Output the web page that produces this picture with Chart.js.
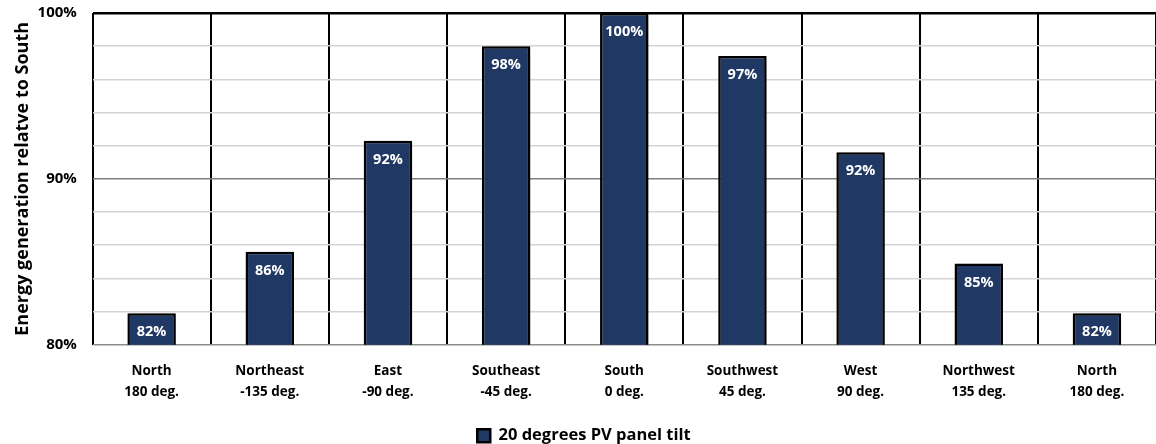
<!DOCTYPE html>
<html>
<head>
<meta charset="utf-8">
<script src="https://cdn.jsdelivr.net/npm/chart.js@4/dist/chart.umd.min.js"></script>
<style>
  html, body { margin: 0; padding: 0; background: #fff; }
  #wrap { width: 1156px; height: 444px; position: relative; }
</style>
</head>
<body>
<div id="wrap"><canvas id="grafico"></canvas></div>
<script>
        var direcoes = [
            ["North", "180 deg."],
            ["Northeast", "-135 deg."],
            ["East", "-90 deg."],
            ["Southeast", "-45 deg."],
            ["South", "0 deg."],
            ["Southwest", "45 deg."],
            ["West", "90 deg."],
            ["Northwest", "135 deg."],
            ["North", "180 deg."]
        ];
        var geracao = [81.9, 85.6, 92.3, 98.0, 100, 97.4, 91.6, 84.9, 81.9];
        var rotulosY = [80, 90, 100];
        var nomeSerie = "20 degrees PV panel tilt";

        var fonte = "'Open Sans', 'Noto Sans', sans-serif";

        // sombra nas barras
        var sombra = {
            id: 'sombra',
            beforeDatasetsDraw: function (chart) {
                var c = chart.ctx;
                c.save();
                c.shadowColor = 'rgba(0,0,0,0.4)';
                c.shadowOffsetX = 3;
                c.shadowOffsetY = 2;
                c.shadowBlur = 5;
            },
            afterDatasetsDraw: function (chart) {
                var c = chart.ctx;
                c.restore();
                // rotulos dentro das barras
                var meta = chart.getDatasetMeta(0);
                c.save();
                c.fillStyle = '#ffffff';
                c.font = "bold 14.5px " + fonte;
                c.textAlign = 'center';
                c.textBaseline = 'middle';
                meta.data.forEach(function (barra, i) {
                    var y = Math.min(barra.y + 19, (barra.y + barra.base) / 2);
                    c.fillText(Math.round(geracao[i]) + '%', barra.x, y);
                });
                c.restore();
            }
        };

        var dadosGrafico = {
            labels: direcoes,
            datasets: [{
                label: nomeSerie,
                data: geracao,
                backgroundColor: '#203864',
                borderColor: '#000000',
                borderWidth: 2.5,
                borderSkipped: 'bottom',
                barPercentage: 0.82,
                categoryPercentage: 0.5
            }]
        };

        let configGrafico = {
            type: 'bar',
            data: dadosGrafico,
            options: {
                responsive: true,
                maintainAspectRatio: false,
                animation: false,
                layout: { padding: { top: 0, right: 0, left: 12, bottom: -10 } },
                plugins: {
                    legend: {
                        position: 'bottom',
                        labels: {
                            color: '#000',
                            boxWidth: 13,
                            boxHeight: 13,
                            padding: 9,
                            font: { family: fonte, size: 16.5, weight: 'bold' }
                        }
                    },
                    tooltip: { enabled: false }
                },
                scales: {
                    x: {
                        offset: true,
                        grid: {
                            offset: true,
                            drawTicks: false,
                            color: function (ctx) { return ctx.index >= direcoes.length ? 'rgba(0,0,0,0)' : '#000'; },
                            lineWidth: 2
                        },
                        border: { display: false },
                        ticks: {
                            color: '#000',
                            padding: 16,
                            font: { family: fonte, size: 13.5, weight: 'bold', lineHeight: 1.55 }
                        }
                    },
                    y: {
                        min: 80,
                        max: 100,
                        border: { display: false },
                        grid: {
                            drawTicks: false,
                            color: function (ctx) {
                                var v = ctx.tick.value;
                                if (v === 100) return '#000';
                                if (v === 90) return '#7f7f7f';
                                if (v === 80) return '#8c8c8c';
                                return '#d4d4d4';
                            },
                            lineWidth: function (ctx) {
                                return ctx.tick.value === 100 ? 2.5 : 1.5;
                            }
                        },
                        ticks: {
                            stepSize: 2,
                            color: '#000',
                            padding: 4,
                            font: { family: fonte, size: 15, weight: 'bold' },
                            callback: function (v) {
                                return rotulosY.indexOf(v) >= 0 ? v + '%   ' : '';
                            }
                        },
                        title: {
                            display: true,
                            text: 'Energy generation relatve to South',
                            color: '#000',
                            padding: { top: 0, bottom: 0 },
                            font: { family: fonte, size: 18, weight: 'bold' }
                        }
                    }
                }
            },
            plugins: [sombra]
        };

        let grafico = new Chart(
            document.getElementById('grafico'),
            configGrafico
        );
</script>
</body>
</html>
